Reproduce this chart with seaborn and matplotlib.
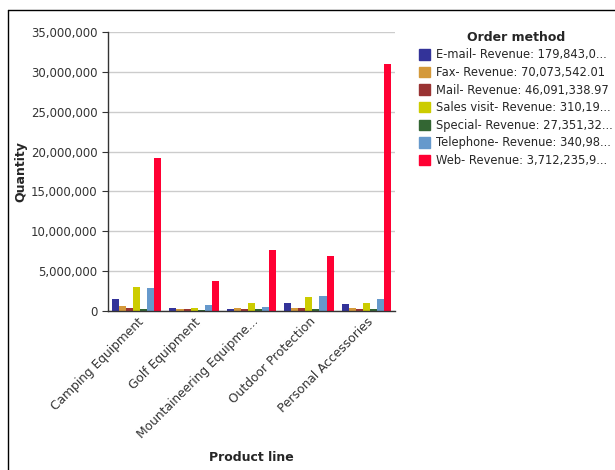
import pandas as pd
import matplotlib
matplotlib.use("Agg")
import matplotlib.pyplot as plt
import seaborn as sns
from matplotlib.ticker import FuncFormatter

products = ["Camping Equipment", "Golf Equipment", "Mountaineering Equipme...",
            "Outdoor Protection", "Personal Accessories"]
methods = ["E-mail- Revenue: 179,843,0...", "Fax- Revenue: 70,073,542.01",
           "Mail- Revenue: 46,091,338.97", "Sales visit- Revenue: 310,19...",
           "Special- Revenue: 27,351,32...", "Telephone- Revenue: 340,98...",
           "Web- Revenue: 3,712,235,9..."]

# quantities per order method, one value per product line
email = [1550000, 420000, 200000, 1050000, 880000]
fax = [580000, 200000, 400000, 380000, 380000]
mail = [380000, 200000, 220000, 380000, 200000]
sales_visit = [3000000, 400000, 1050000, 1700000, 1050000]
special = [200000, 80000, 200000, 200000, 200000]
telephone = [2840000, 700000, 550000, 1850000, 1500000]
web = [19200000, 3800000, 7680000, 6880000, 31000000]

colors = ["#333399", "#D4993A", "#993333", "#CCCC00", "#336633", "#6699CC", "#FF0033"]

series = [email, fax, mail, sales_visit, special, telephone, web]
rows = []
for m, vals in zip(methods, series):
    for p, v in zip(products, vals):
        rows.append({"Product line": p, "Order method": m, "Quantity": v})
df = pd.DataFrame(rows)

sns.set_style("white")
plt.rcParams["font.family"] = ["DejaVu Sans"]

fig = plt.figure(figsize=(6.15, 4.7), dpi=100)
ax = fig.add_axes([108 / 615, 1 - 311 / 470, 287 / 615, 279 / 470])

sns.barplot(data=df, x="Product line", y="Quantity", hue="Order method",
            palette=colors, width=0.86, ax=ax, legend=False, saturation=1,
            linewidth=0)

ax.set_ylim(0, 35000000)
ax.set_yticks(range(0, 35000001, 5000000))
ax.yaxis.set_major_formatter(FuncFormatter(lambda v, _: f"{int(v):,}"))
ax.yaxis.grid(True, color="#cccccc", linewidth=1)
ax.set_axisbelow(True)
for s in ["top", "right"]:
    ax.spines[s].set_visible(False)
for s in ["left", "bottom"]:
    ax.spines[s].set_color("#333333")
    ax.spines[s].set_linewidth(1)
ax.tick_params(axis="y", length=4, color="#333333", labelsize=8.5, labelcolor="#333333", left=True)
ax.tick_params(axis="x", length=0, labelsize=8.8, labelcolor="#333333", pad=3)
plt.setp(ax.get_xticklabels(), rotation=45, ha="right", rotation_mode="anchor")

ax.set_xlabel("Product line", fontsize=9, fontweight="bold")
ax.set_ylabel("Quantity", fontsize=9, fontweight="bold")
ax.xaxis.set_label_coords(0.5, -(451 - 311) / 279)
ax.yaxis.set_label_coords(-(108 - 27) / 287, 0.5)

handles = [plt.Rectangle((0, 0), 1, 1, color=c) for c in colors]
leg = fig.legend(handles, methods, title="Order method", loc="upper left",
                 bbox_to_anchor=(413 / 615, 1 - 25 / 470), frameon=False,
                 fontsize=8.3, title_fontproperties={"weight": "bold", "size": 9},
                 handlelength=1.0, handleheight=1.0, handletextpad=0.5,
                 labelspacing=0.4, borderpad=0)

# outer frame
fig.add_artist(plt.Line2D([8 / 615, 8 / 615], [0, 1 - 10 / 470], color="black", lw=1,
                          transform=fig.transFigure))
fig.add_artist(plt.Line2D([8 / 615, 1], [1 - 10 / 470, 1 - 10 / 470], color="black", lw=1,
                          transform=fig.transFigure))

fig.savefig("out.png", dpi=100)
